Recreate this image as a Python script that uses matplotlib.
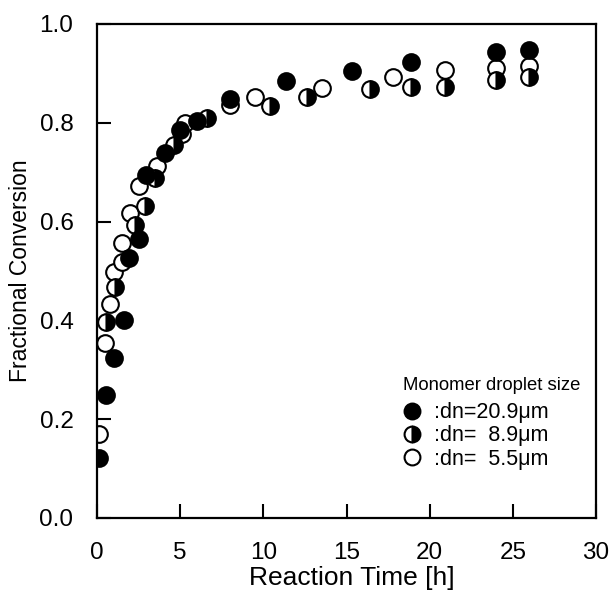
import matplotlib
matplotlib.use("Agg")
import matplotlib.pyplot as plt

plt.rcParams['font.family'] = ['Liberation Sans', 'DejaVu Sans']

# Data
t_209 = [0.1, 0.55, 1.05, 1.6, 1.9, 2.5, 2.95, 4.1, 5.0, 6.0, 8.0, 11.35, 15.35, 18.9, 24.0, 26.0]
c_209 = [0.121, 0.250, 0.323, 0.400, 0.526, 0.565, 0.694, 0.738, 0.785, 0.804, 0.848, 0.885, 0.905, 0.924, 0.944, 0.947]

t_89 = [0.55, 1.1, 2.3, 2.9, 3.5, 4.6, 6.6, 10.4, 12.6, 16.4, 18.9, 20.9, 24.0, 26.0]
c_89 = [0.397, 0.467, 0.593, 0.631, 0.688, 0.755, 0.809, 0.833, 0.852, 0.868, 0.872, 0.873, 0.887, 0.893]

t_55 = [0.15, 0.5, 0.8, 1.0, 1.5, 1.5, 2.0, 2.5, 3.6, 5.1, 5.3, 8.0, 9.5, 13.5, 17.8, 20.9, 24.0, 26.0]
c_55 = [0.171, 0.354, 0.433, 0.498, 0.519, 0.556, 0.618, 0.672, 0.713, 0.778, 0.800, 0.836, 0.853, 0.870, 0.892, 0.907, 0.910, 0.915]

labels = [":dn=20.9\u03bcm", ":dn=  8.9\u03bcm", ":dn=  5.5\u03bcm"]
legend_title = "Monomer droplet size"
xticks = [0, 5, 10, 15, 20, 25, 30]
yticks = [0.0, 0.2, 0.4, 0.6, 0.8, 1.0]

fig = plt.figure(figsize=(6.11, 5.97), dpi=100)
ax = fig.add_axes([97/611, 79/597, 499/611, 494/597])

ms = 12
mew = 1.5
h3, = ax.plot(t_55, c_55, 'o', ms=ms, mew=mew, mec='black', mfc='white', linestyle='none', label=labels[2])
h2, = ax.plot(t_89, c_89, 'o', ms=ms, mew=mew, mec='black', mfc='black', markerfacecoloralt='white',
              fillstyle='right', linestyle='none', label=labels[1])
h1, = ax.plot(t_209, c_209, 'o', ms=ms, mew=mew, mec='black', mfc='black', linestyle='none', label=labels[0])

ax.set_xlim(0, 30)
ax.set_ylim(0, 1.0)
ax.set_xticks(xticks)
ax.set_yticks(yticks)
ax.set_xticklabels([str(v) for v in xticks])
ax.set_yticklabels([f"{v:.1f}" for v in yticks])
ax.tick_params(direction='in', length=10, width=1.5, labelsize=17.5, pad=17)
ax.tick_params(axis='y', pad=17)
for s in ax.spines.values():
    s.set_linewidth(1.6)

ax.set_xlabel("Reaction Time [h]", fontsize=19)
ax.xaxis.set_label_coords(0.51, -0.098)
ax.set_ylabel("Fractional Conversion", fontsize=16.5, labelpad=5)

leg = ax.legend(handles=[h1, h2, h3], labels=labels, frameon=False,
                loc='center left', bbox_to_anchor=(0.605, 0.166), fontsize=15.5,
                handletextpad=0.45, labelspacing=0.1, handlelength=1.2, markerscale=0.95,
                borderaxespad=0, borderpad=0)
ax.text(0.79, 0.269, legend_title, transform=ax.transAxes, ha='center', va='center', fontsize=13.3)

fig.savefig("out.png", dpi=100)
